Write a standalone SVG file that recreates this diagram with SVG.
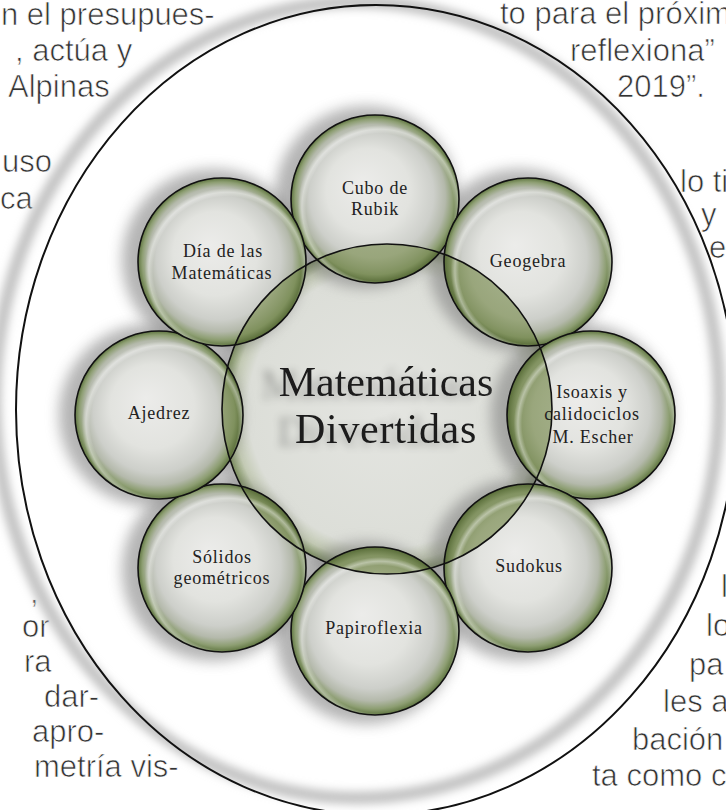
<svg xmlns="http://www.w3.org/2000/svg" width="726" height="810" viewBox="0 0 726 810">
<style>
.para{font-family:"Liberation Sans",Arial,sans-serif;font-size:31px;fill:#333;stroke:#fff;stroke-width:0.7px}
.lab{font-family:"Liberation Serif","Times New Roman",serif;font-size:18px;fill:#222;text-anchor:middle;letter-spacing:0.8px}
.title{font-family:"Liberation Serif","Times New Roman",serif;font-size:42px;fill:#1a1a1a;text-anchor:middle}
.sat{fill:url(#gSat)}
.hi{fill:url(#gHi)}
.lens{fill:url(#gLens);opacity:0.9}
.edge{fill:none;stroke:#111;stroke-width:1.6}
.sh{fill:#777;opacity:0.55;filter:url(#fSh)}
</style>
<defs>
<radialGradient id="gSat" cx="0.5" cy="0.5" r="0.5" fx="0.42" fy="0.4">
<stop offset="0" stop-color="#ececea"/>
<stop offset="0.5" stop-color="#e2e3df"/>
<stop offset="0.74" stop-color="#cdcfca"/>
<stop offset="0.86" stop-color="#b4b9ab"/>
<stop offset="0.94" stop-color="#8d9e72"/>
<stop offset="1" stop-color="#5f7540"/>
</radialGradient>
<radialGradient id="gCen" cx="0.5" cy="0.5" r="0.5">
<stop offset="0" stop-color="#e4e5e1"/>
<stop offset="0.84" stop-color="#dcded8"/>
<stop offset="0.93" stop-color="#c3cab4"/>
<stop offset="1" stop-color="#7b8f5c"/>
</radialGradient>
<radialGradient id="gLens" cx="0.5" cy="0.5" r="0.5">
<stop offset="0" stop-color="#a2ae88"/>
<stop offset="0.7" stop-color="#93a173"/>
<stop offset="0.9" stop-color="#7d8f5a"/>
<stop offset="1" stop-color="#566a36"/>
</radialGradient>
<radialGradient id="gHi" cx="0.53" cy="0.55" r="0.5">
<stop offset="0" stop-color="#fff" stop-opacity="0"/>
<stop offset="0.88" stop-color="#fff" stop-opacity="0"/>
<stop offset="0.93" stop-color="#fff" stop-opacity="0.4"/>
<stop offset="0.98" stop-color="#fff" stop-opacity="0"/>
</radialGradient>
<filter id="fSh" x="-40%" y="-40%" width="180%" height="180%"><feGaussianBlur stdDeviation="7"/></filter>
<filter id="fRing" x="-10%" y="-10%" width="120%" height="120%"><feGaussianBlur stdDeviation="4"/></filter>
<filter id="fTx" x="-20%" y="-40%" width="140%" height="180%">
<feGaussianBlur in="SourceAlpha" stdDeviation="4"/>
<feOffset dx="-18" dy="3"/>
<feComponentTransfer><feFuncA type="linear" slope="0.3"/></feComponentTransfer>
<feMerge><feMergeNode/><feMergeNode in="SourceGraphic"/></feMerge>
</filter>
<clipPath id="cCen"><circle cx="387" cy="409" r="165"/></clipPath>
</defs>
<rect width="726" height="810" fill="#fff"/>

<g id="page-text" class="para">
<text x="1" y="25">n el presupues-</text>
<text x="15" y="61">, actúa y</text>
<text x="8" y="97">Alpinas</text>
<text x="2" y="172">uso</text>
<text x="0" y="209">ca</text>
<text x="30" y="603">,</text>
<text x="22" y="637">or</text>
<text x="24" y="672">ra</text>
<text x="44" y="707">dar-</text>
<text x="32" y="742">apro-</text>
<text x="34" y="777">metría vis-</text>
<text x="500" y="24">to para el próxim</text>
<text x="570" y="61">reflexiona”</text>
<text x="617" y="97">2019”.</text>
<text x="680" y="192">lo ti</text>
<text x="701" y="225">y</text>
<text x="709" y="258">e</text>
<text x="721" y="597">l</text>
<text x="706" y="636">lo</text>
<text x="689" y="675">pa</text>
<text x="663" y="712">les a</text>
<text x="632" y="750">bación</text>
<text x="592" y="786">ta como c</text>
</g>

<g id="frame">
<ellipse cx="357" cy="400" rx="362" ry="398" fill="none" stroke="#c4c4c4" stroke-width="13" filter="url(#fRing)"/>
<ellipse cx="376" cy="410" rx="360" ry="405" fill="none" stroke="#111" stroke-width="2"/>
</g>

<g id="node-central">
<circle cx="379" cy="409" r="170" class="sh"/>
<circle cx="387" cy="409" r="165" fill="url(#gCen)"/>
<text class="title" filter="url(#fTx)"><tspan x="386" y="396">Matemáticas</tspan><tspan x="386" y="443" letter-spacing="0.7">Divertidas</tspan></text>
</g>

<g id="shadows">
<circle cx="366" cy="197" r="91" class="sh"/>
<circle cx="519" cy="260" r="91" class="sh"/>
<circle cx="582" cy="415" r="91" class="sh"/>
<circle cx="519" cy="570" r="91" class="sh"/>
<circle cx="366" cy="633" r="91" class="sh"/>
<circle cx="213" cy="570" r="91" class="sh"/>
<circle cx="150" cy="415" r="91" class="sh"/>
<circle cx="213" cy="260" r="91" class="sh"/>
</g>

<g id="node-cubo">
<circle cx="375" cy="199" r="84" class="sat"/>
<circle cx="375" cy="199" r="84" class="lens" clip-path="url(#cCen)"/>
<circle cx="375" cy="199" r="84" class="hi"/>
<circle cx="375" cy="199" r="84" class="edge"/>
<text class="lab"><tspan x="375" y="194">Cubo de</tspan><tspan x="375" y="215">Rubik</tspan></text>
</g>
<g id="node-geogebra">
<circle cx="528" cy="262" r="84" class="sat"/>
<circle cx="528" cy="262" r="84" class="lens" clip-path="url(#cCen)"/>
<circle cx="528" cy="262" r="84" class="hi"/>
<circle cx="528" cy="262" r="84" class="edge"/>
<text class="lab" x="528" y="267">Geogebra</text>
</g>
<g id="node-isoaxis">
<circle cx="591" cy="415" r="84" class="sat"/>
<circle cx="591" cy="415" r="84" class="lens" clip-path="url(#cCen)"/>
<circle cx="591" cy="415" r="84" class="hi"/>
<circle cx="591" cy="415" r="84" class="edge"/>
<text class="lab"><tspan x="592" y="398">Isoaxis y</tspan><tspan x="592" y="420">calidociclos</tspan><tspan x="593" y="443">M. Escher</tspan></text>
</g>
<g id="node-sudokus">
<circle cx="528" cy="568" r="84" class="sat"/>
<circle cx="528" cy="568" r="84" class="lens" clip-path="url(#cCen)"/>
<circle cx="528" cy="568" r="84" class="hi"/>
<circle cx="528" cy="568" r="84" class="edge"/>
<text class="lab" x="529" y="572">Sudokus</text>
</g>
<g id="node-papiroflexia">
<circle cx="375" cy="631" r="84" class="sat"/>
<circle cx="375" cy="631" r="84" class="lens" clip-path="url(#cCen)"/>
<circle cx="375" cy="631" r="84" class="hi"/>
<circle cx="375" cy="631" r="84" class="edge"/>
<text class="lab" x="374" y="634">Papiroflexia</text>
</g>
<g id="node-solidos">
<circle cx="222" cy="568" r="84" class="sat"/>
<circle cx="222" cy="568" r="84" class="lens" clip-path="url(#cCen)"/>
<circle cx="222" cy="568" r="84" class="hi"/>
<circle cx="222" cy="568" r="84" class="edge"/>
<text class="lab"><tspan x="222" y="563">Sólidos</tspan><tspan x="222" y="584">geométricos</tspan></text>
</g>
<g id="node-ajedrez">
<circle cx="159" cy="415" r="84" class="sat"/>
<circle cx="159" cy="415" r="84" class="lens" clip-path="url(#cCen)"/>
<circle cx="159" cy="415" r="84" class="hi"/>
<circle cx="159" cy="415" r="84" class="edge"/>
<text class="lab" x="159" y="419">Ajedrez</text>
</g>
<g id="node-dia">
<circle cx="222" cy="262" r="84" class="sat"/>
<circle cx="222" cy="262" r="84" class="lens" clip-path="url(#cCen)"/>
<circle cx="222" cy="262" r="84" class="hi"/>
<circle cx="222" cy="262" r="84" class="edge"/>
<text class="lab"><tspan x="223" y="257">Día de las</tspan><tspan x="222" y="279">Matemáticas</tspan></text>
</g>

<g id="central-outline">
<circle cx="387" cy="409" r="165" class="edge"/>
</g>
</svg>
